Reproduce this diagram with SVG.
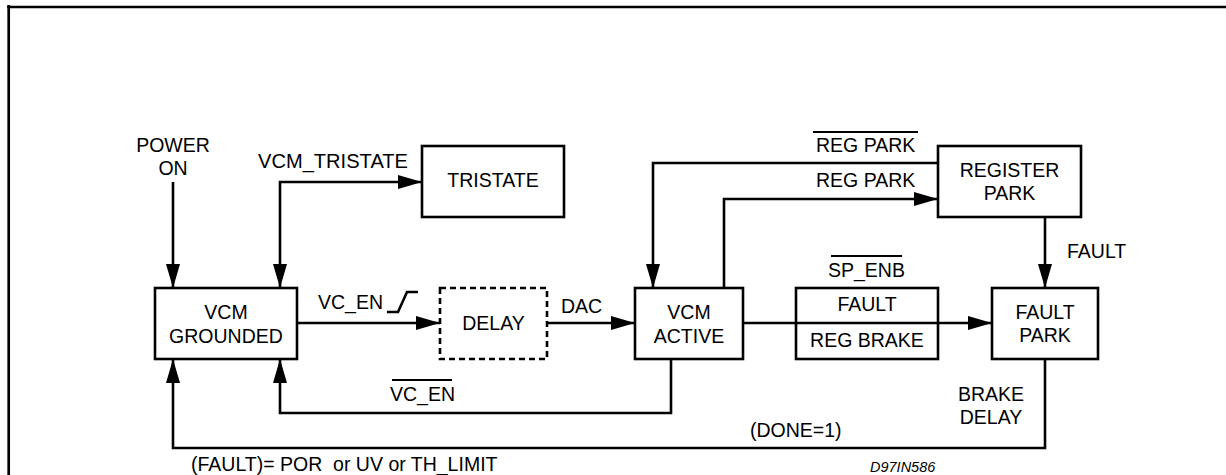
<svg xmlns="http://www.w3.org/2000/svg" width="1226" height="475" viewBox="0 0 1226 475">
<style>
text{font-family:"Liberation Sans",Arial,sans-serif;font-size:19.5px;fill:#000}
.m{text-anchor:middle}
.box{fill:#fff;stroke:#000;stroke-width:2.6}
.dash{fill:#fff;stroke:#000;stroke-width:2.6;stroke-dasharray:6,4}
.c{fill:none;stroke:#000;stroke-width:2.6}
.ol{stroke:#000;stroke-width:2}
.id{font-size:14.5px;font-style:italic}
</style>
<defs>
<marker id="ah" markerUnits="userSpaceOnUse" markerWidth="24" markerHeight="14" refX="24" refY="7" orient="auto-start-reverse">
<path d="M0,0 L24,7 L0,14 z" fill="#000"/>
</marker>
</defs>
<rect width="1226" height="475" fill="#fff"/>
<g id="frame" fill="none" stroke="#000" stroke-width="2.7">
<path d="M8.7,5 V475"/>
<path d="M7.3,7 H1226"/>
</g>
<g id="connectors">
<path class="c" d="M173,182 V288" marker-end="url(#ah)"/>
<path class="c" d="M422,182 H280 V288" marker-start="url(#ah)" marker-end="url(#ah)"/>
<path class="c" d="M297,323 H440" marker-end="url(#ah)"/>
<path class="c" d="M547,323 H635" marker-end="url(#ah)"/>
<path class="c" d="M743,323 H992" marker-end="url(#ah)"/>
<path class="c" d="M938,163 H653 V288" marker-end="url(#ah)"/>
<path class="c" d="M724,288 V199 H938" marker-end="url(#ah)"/>
<path class="c" d="M1045,217 V288" marker-end="url(#ah)"/>
<path class="c" d="M671,359 V413 H280 V359" marker-end="url(#ah)"/>
<path class="c" d="M1045,359 V448 H173 V359" marker-end="url(#ah)"/>
<polyline class="c" points="387,312 398,312 407,292 418,292"/>
</g>
<g id="labels">
<text class="m" x="173" y="152">POWER</text>
<text class="m" x="173" y="175">ON</text>
<text x="258" y="168" textLength="150" lengthAdjust="spacingAndGlyphs">VCM_TRISTATE</text>
<text x="816" y="152">REG PARK</text>
<line class="ol" x1="813" y1="132" x2="918" y2="132"/>
<text x="816" y="187">REG PARK</text>
<text x="1067" y="258">FAULT</text>
<text x="828" y="277">SP_ENB</text>
<line class="ol" x1="831" y1="256" x2="902" y2="256"/>
<text x="318" y="309">VC_EN</text>
<text x="561" y="313">DAC</text>
<text x="390" y="401">VC_EN</text>
<line class="ol" x1="392" y1="380" x2="452" y2="380"/>
<text class="m" x="991" y="401">BRAKE</text>
<text class="m" x="991" y="424">DELAY</text>
<text x="750" y="437">(DONE=1)</text>
<text x="191" y="471" xml:space="preserve">(FAULT)= POR  or UV or TH_LIMIT</text>
<text class="id" x="870" y="472">D97IN586</text>
</g>
<g id="vcm-grounded">
<rect class="box" x="155" y="288" width="142" height="71"/>
<text class="m" x="226" y="319">VCM</text>
<text class="m" x="226" y="343">GROUNDED</text>
</g>
<g id="tristate">
<rect class="box" x="422" y="146" width="142" height="71"/>
<text class="m" x="493" y="187">TRISTATE</text>
</g>
<g id="delay">
<rect class="dash" x="440" y="288" width="107" height="71"/>
<text class="m" x="493.5" y="330">DELAY</text>
</g>
<g id="vcm-active">
<rect class="box" x="635" y="288" width="108" height="71"/>
<text class="m" x="689" y="319">VCM</text>
<text class="m" x="689" y="343">ACTIVE</text>
</g>
<g id="fault-regbrake">
<rect class="box" x="796" y="288" width="142" height="71" fill="none" style="fill:none"/>
<text class="m" x="867" y="311">FAULT</text>
<text class="m" x="867" y="347">REG BRAKE</text>
</g>
<g id="register-park">
<rect class="box" x="938" y="146" width="143" height="71"/>
<text class="m" x="1009.5" y="177">REGISTER</text>
<text class="m" x="1009.5" y="200">PARK</text>
</g>
<g id="fault-park">
<rect class="box" x="992" y="288" width="106" height="71"/>
<text class="m" x="1045" y="319">FAULT</text>
<text class="m" x="1045" y="342">PARK</text>
</g>
</svg>
